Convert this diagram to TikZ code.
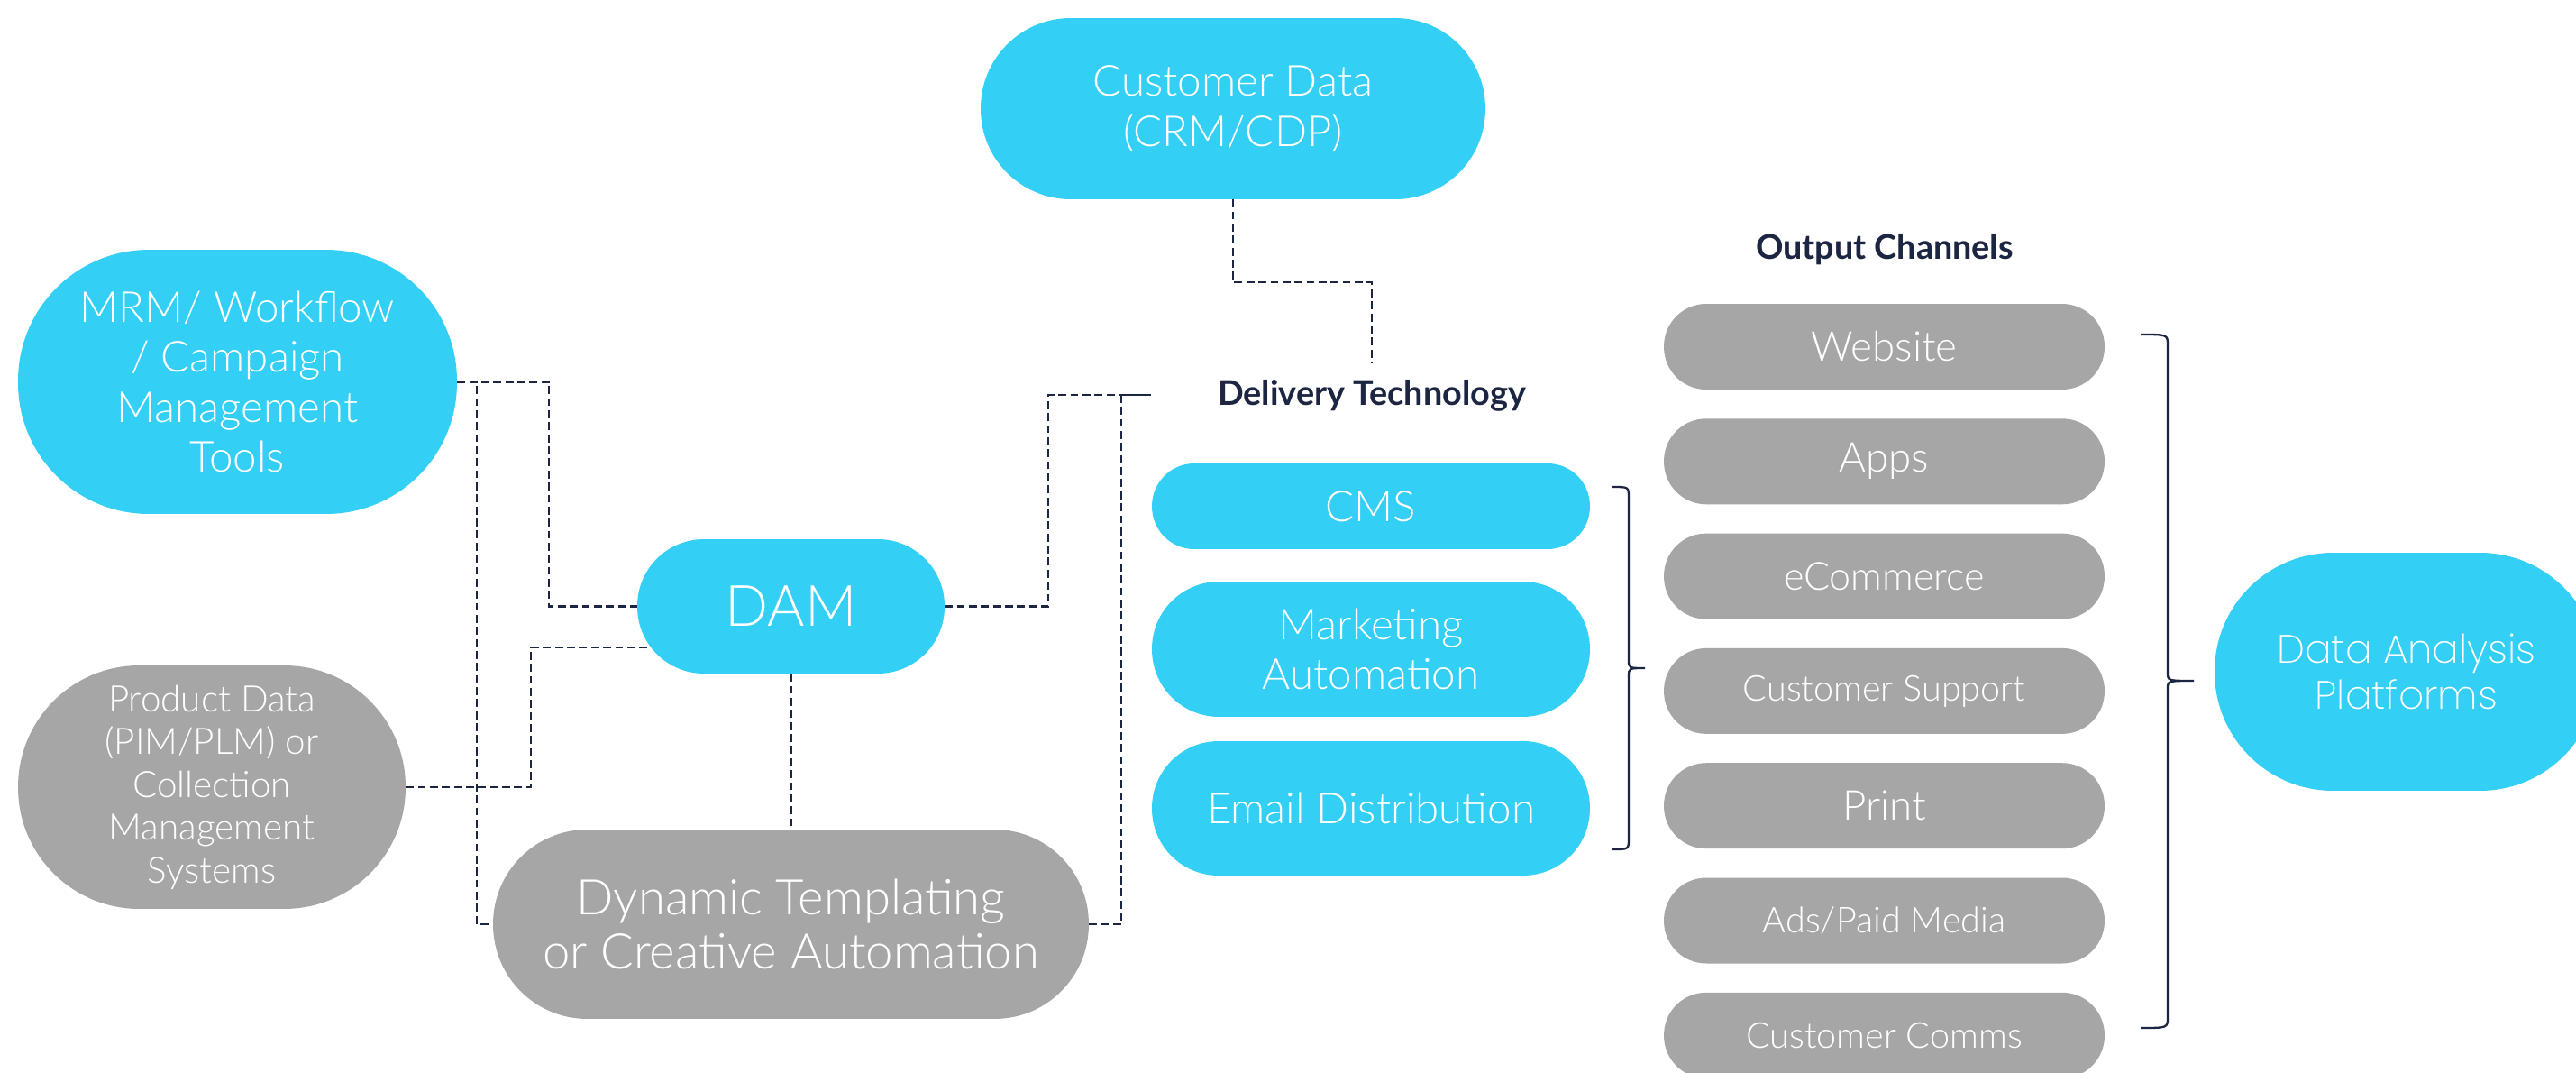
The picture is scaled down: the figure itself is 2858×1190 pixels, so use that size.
\documentclass[tikz,border=0pt]{standalone}
\usepackage{fontspec}
\setmainfont{Lato}
\newfontfamily\lt{Lato Light}
\newfontfamily\pop{Poppins ExtraLight}
\definecolor{cy}{HTML}{33CFF4}
\definecolor{gr}{HTML}{A6A6A6}
\definecolor{nv}{HTML}{1C2541}
\tikzset{
  pill/.style={rectangle, inner sep=0pt, text=white, align=center, draw=none},
  conn/.style={draw=nv, line width=1.3pt, dash pattern=on 5pt off 2.6pt},
  bracestyle/.style={draw=nv, line width=1.3pt},
  lbl/.style={text=nv, inner sep=0pt, font=\bfseries\fontsize{21.5}{25}\selectfont},
  outpill/.style={pill, fill=gr, minimum width=9.78cm, minimum height=1.9cm, rounded corners=0.94cm},
}
\begin{document}
\begin{tikzpicture}[x=0.02cm,y=-0.02cm]
\fill[white] (0,0) rectangle (2858,1190);
\clip (0,0) rectangle (2858,1190);
% left nodes
\node[pill, fill=cy, minimum width=11.2cm, minimum height=4.02cm, rounded corners=2cm,
  font=\lt\fontsize{27}{32}\selectfont] (cust) at (1368,120.5) {Customer Data\\(CRM/CDP)};
\node[pill, fill=cy, minimum width=9.74cm, minimum height=5.86cm, rounded corners=2.9cm,
  font=\lt\fontsize{27}{31.5}\selectfont] (mrm) at (263.5,423.5) {MRM/ Workflow\\/ Campaign\\Management\\Tools};
\node[pill, fill=cy, minimum width=6.82cm, minimum height=2.98cm, rounded corners=1.48cm,
  font=\lt\fontsize{36}{40}\selectfont] (dam) at (877.5,672.5) {DAM};
\node[pill, fill=gr, minimum width=8.6cm, minimum height=5.4cm, rounded corners=2.69cm,
  font=\lt\fontsize{23}{27}\selectfont] (prod) at (235,873) {Product Data\\(PIM/PLM) or\\Collection\\Management\\Systems};
\node[pill, fill=gr, minimum width=13.22cm, minimum height=4.2cm, rounded corners=2.09cm,
  font=\lt\fontsize{31}{34}\selectfont] (dyn) at (877.5,1025) {Dynamic Templating\\or Creative Automation};
% delivery technology
\node[lbl] (deliv) at (1522,439) {Delivery Technology};
\node[pill, fill=cy, minimum width=9.72cm, minimum height=1.9cm, rounded corners=0.94cm,
  font=\lt\fontsize{27}{31}\selectfont] (cms) at (1521,561.5) {CMS};
\node[pill, fill=cy, minimum width=9.72cm, minimum height=3.0cm, rounded corners=1.49cm,
  font=\lt\fontsize{27}{31}\selectfont] (mkt) at (1521,720) {Marketing\\Automation};
\node[pill, fill=cy, minimum width=9.72cm, minimum height=2.98cm, rounded corners=1.48cm,
  font=\lt\fontsize{27}{31}\selectfont] (email) at (1521,896.5) {Email Distribution};
% output channels
\node[lbl] (outch) at (2091,277) {Output Channels};
\node[outpill, font=\lt\fontsize{26}{30}\selectfont] (web) at (2090.5,384.5) {Website};
\node[outpill, font=\lt\fontsize{26}{30}\selectfont] (apps) at (2090.5,511.8) {Apps};
\node[outpill, font=\lt\fontsize{24.5}{30}\selectfont] (ecom) at (2090.5,639.1) {eCommerce};
\node[outpill, font=\lt\fontsize{22.5}{30}\selectfont] (csup) at (2090.5,766.4) {Customer Support};
\node[outpill, font=\lt\fontsize{26}{30}\selectfont] (print) at (2090.5,893.7) {Print};
\node[outpill, font=\lt\fontsize{22.5}{30}\selectfont] (ads) at (2090.5,1021) {Ads/Paid Media};
\node[outpill, font=\lt\fontsize{22.5}{30}\selectfont] (comms) at (2090.5,1148.3) {Customer Comms};
% data analysis
\node[pill, fill=cy, minimum width=8.52cm, minimum height=5.28cm, rounded corners=2.63cm,
  font=\pop\fontsize{25}{29}\selectfont] (dap) at (2670,745) {Data Analysis\\Platforms};
% connector end points
\coordinate (dtin) at (1277,438);
\coordinate (dttop) at (1522,403);
\coordinate (damlow) at (722,718);
% connectors
\draw[conn] (mrm.east) -- ++(102,0) |- (dam.west);
\draw[conn] (mrm.east) -- ++(22,0) |- (dyn.west);
\draw[conn] (prod.east) -- ++(139,0) |- (damlow);
\draw[conn] (dam.south) -- (dyn.north);
\draw[conn] (dam.east) -- ++(115,0) |- (dtin);
\draw[conn] (dyn.east) -- ++(36,0) |- (dtin);
\draw[conn] (cust.south) -- ++(0,92) -| (dttop);
% braces
\draw[bracestyle] (1789,540) .. controls (1807,540) .. (1807,552) -- (1807,732)
  .. controls (1807,741) .. (1825,741) .. controls (1807,741) .. (1807,750) -- (1807,930)
  .. controls (1807,942) .. (1789,942);
\draw[bracestyle] (2375,371) .. controls (2405,371) .. (2405,383) -- (2405,746)
  .. controls (2405,755) .. (2434,755) .. controls (2405,755) .. (2405,764) -- (2405,1128)
  .. controls (2405,1140) .. (2375,1140);
\end{tikzpicture}
\end{document}
